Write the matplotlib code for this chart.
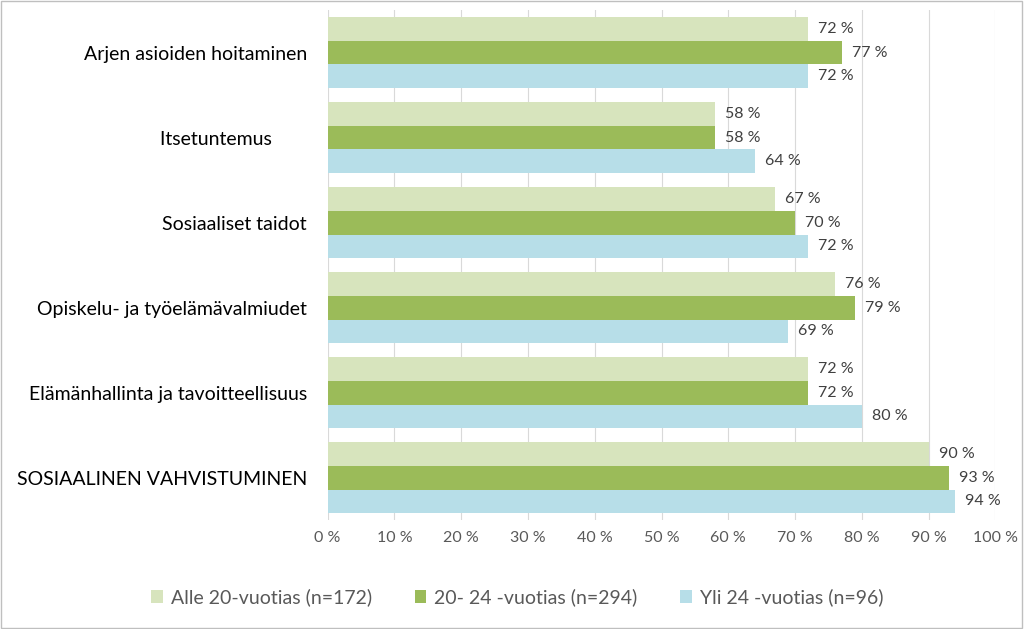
import matplotlib.pyplot as plt
import numpy as np
from matplotlib.patches import Rectangle

plt.rcParams['font.family'] = ['Lato', 'DejaVu Sans']

categories = ["Arjen asioiden hoitaminen", "Itsetuntemus       ", "Sosiaaliset taidot",
              "Opiskelu- ja työelämävalmiudet", "Elämänhallinta ja tavoitteellisuus",
              "SOSIAALINEN VAHVISTUMINEN"]
series_names = ["Alle 20-vuotias (n=172)", "20- 24 -vuotias (n=294)", "Yli 24 -vuotias (n=96)"]
alle20 = [72, 58, 67, 76, 72, 90]
v20_24 = [77, 58, 70, 79, 72, 93]
yli24 = [72, 64, 72, 69, 80, 94]
colors = ["#d7e4bd", "#9bbb59", "#b7dee8"]

fig = plt.figure(figsize=(10.24, 6.29), dpi=100)
ax = fig.add_axes([0.320, 0.173, 0.652, 0.811])

n = len(categories)
y = np.arange(n)[::-1]  # first category at top
h = 0.28
offsets = [h, 0, -h]
for vals, off, col, name in zip([alle20, v20_24, yli24], offsets, colors, series_names):
    ax.barh(y + off, vals, height=h, color=col, label=name, zorder=2)
    for yi, v in zip(y, vals):
        ax.text(v + 1.5, yi + off, f"{v} %", va='center', ha='left',
                fontsize=11.5, color='#404040')

ax.set_xlim(0, 100)
ax.set_ylim(-0.5, n - 0.5)
ax.set_xticks(np.arange(0, 101, 10))
ax.set_xticklabels([f"{t} %" for t in range(0, 101, 10)], fontsize=11.5, color='#595959')
ax.set_yticks(y)
ax.set_yticklabels(categories, fontsize=14, color='black')
ax.tick_params(axis='both', length=0, pad=8)
ax.tick_params(axis='y', pad=15)
ax.xaxis.grid(True, color='#d9d9d9', linewidth=0.8, zorder=0)
for s in ax.spines.values():
    s.set_visible(False)

ax.legend(loc='center', bbox_to_anchor=(0.505, 0.05), bbox_transform=fig.transFigure,
          ncol=3, frameon=False, fontsize=14, handlelength=0.6, handleheight=0.6,
          columnspacing=2.2, handletextpad=0.4, labelcolor='#595959')

fig.patches.append(Rectangle((0.001, 0.001), 0.997, 0.997, transform=fig.transFigure,
                             fill=False, edgecolor='#bfbfbf', linewidth=1))

fig.savefig("out.png", dpi=100)
